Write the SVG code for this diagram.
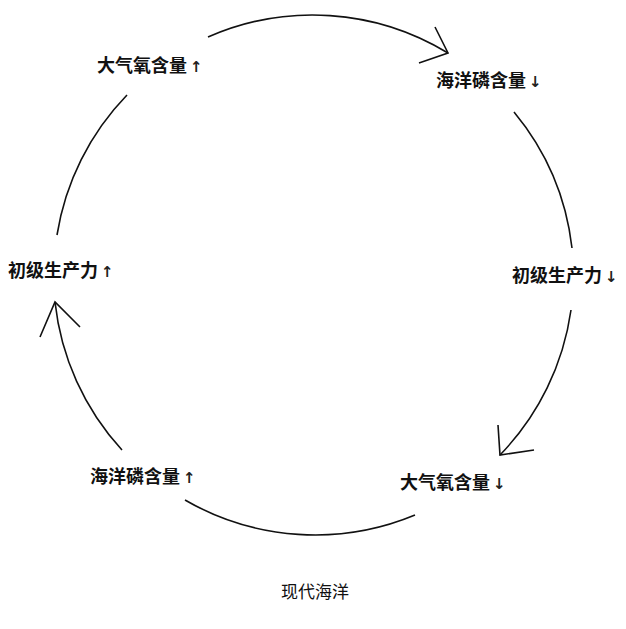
<svg xmlns="http://www.w3.org/2000/svg" width="626" height="629" viewBox="0 0 626 629">
<style>
.c{fill:none;stroke:#111;stroke-width:1.6}
.t{font-family:"Noto Sans CJK SC","Liberation Serif",serif;font-size:18px;font-weight:bold;fill:#111}
.a{font-family:"DejaVu Sans",sans-serif;font-weight:bold;font-size:15px;fill:#222}
.f{font-family:"Noto Sans CJK SC","Liberation Sans",sans-serif;font-size:17px;fill:#111}
</style>
<rect width="626" height="629" fill="#fff"/>
<g id="connectors">
<path class="c" d="M208,37 A260,260 0 0 1 448,53"/>
<path class="c" d="M435,27 L448,53 L419,63"/>
<path class="c" d="M514,112 A260,260 0 0 1 572,248"/>
<path class="c" d="M571,310 A260,260 0 0 1 500,455"/>
<path class="c" d="M498,425 L500,455 L534,450"/>
<path class="c" d="M415,515 A260,260 0 0 1 185,500"/>
<path class="c" d="M122,450 A260,260 0 0 1 55,302"/>
<path class="c" d="M40,337 L55,302 L80,327"/>
<path class="c" d="M57,235 A260,260 0 0 1 127,95"/>
</g>
<g id="n1"><text class="t" x="97" y="72">大气氧含量<tspan class="a" dx="3">↑</tspan></text></g>
<g id="n2"><text class="t" x="436" y="87">海洋磷含量<tspan class="a" dx="3">↓</tspan></text></g>
<g id="n3"><text class="t" x="512" y="282">初级生产力<tspan class="a" dx="3">↓</tspan></text></g>
<g id="n4"><text class="t" x="400" y="489">大气氧含量<tspan class="a" dx="3">↓</tspan></text></g>
<g id="n5"><text class="t" x="90" y="483">海洋磷含量<tspan class="a" dx="3">↑</tspan></text></g>
<g id="n6"><text class="t" x="8" y="277">初级生产力<tspan class="a" dx="3">↑</tspan></text></g>
<g id="title"><text class="f" x="281" y="598">现代海洋</text></g>
</svg>
